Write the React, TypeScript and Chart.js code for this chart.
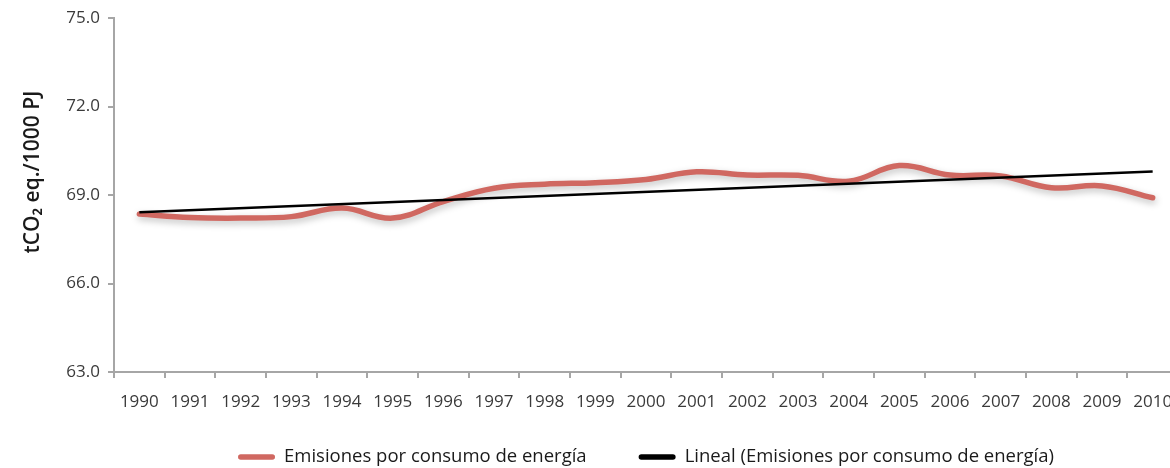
import React, { useEffect, useRef } from "react";
import { Chart, registerables } from "chart.js";

Chart.register(...registerables);

const years = [
  "1990", "1991", "1992", "1993", "1994", "1995", "1996", "1997", "1998", "1999", "2000",
  "2001", "2002", "2003", "2004", "2005", "2006", "2007", "2008", "2009", "2010",
];

const emissions = [
  68.36, 68.24, 68.22, 68.27, 68.56, 68.22, 68.78, 69.23, 69.37, 69.42, 69.53,
  69.79, 69.68, 69.67, 69.47, 70.0, 69.68, 69.65, 69.25, 69.31, 68.91,
];

// Linear trend line read at its two ends (1990 and 2010)
const trendYears = ["1990", "2010"];
const trendValues = [68.42, 69.8];

const yTicks = [63, 66, 69, 72, 75];

const seriesLabel = "Emisiones por consumo de energía";
const trendLabel = "Lineal (Emisiones por consumo de energía)";
const yTitle = "tCO₂ eq./1000 PJ";

const FONT = '"Open Sans", "Noto Sans", sans-serif';
const AXIS = "#a6a6a6";

const yTitlePlugin = {
  id: "yTitlePlugin",
  afterDraw(chart: any) {
    const { ctx, chartArea } = chart;
    ctx.save();
    ctx.translate(33, chartArea.top + chartArea.height * 0.435);
    ctx.rotate(-Math.PI / 2);
    ctx.font = `600 21px ${FONT}`;
    ctx.fillStyle = "#1a1a1a";
    ctx.textAlign = "center";
    ctx.textBaseline = "middle";
    ctx.fillText(yTitle, 0, 0);
    ctx.restore();
  },
};

const legendPlugin = {
  id: "legendPlugin",
  afterDraw(chart: any) {
    const { ctx, chartArea } = chart;
    const items = chart.data.datasets.map((ds: any) => ({ text: ds.label, color: ds.borderColor }));
    const boxW = 37;
    const boxH = 5.5;
    const textGap = 9;
    const itemGap = 52;
    ctx.save();
    ctx.font = `18.5px ${FONT}`;
    const widths = items.map((it: any) => boxW + textGap + ctx.measureText(it.text).width);
    const total = widths.reduce((a: number, b: number) => a + b, 0) + itemGap * (items.length - 1);
    let x = (chartArea.left + chartArea.right) / 2 - total / 2;
    const y = chart.height - 11;
    items.forEach((it: any, i: number) => {
      ctx.fillStyle = it.color;
      ctx.beginPath();
      ctx.roundRect(x, y - boxH / 2, boxW, boxH, boxH / 2);
      ctx.fill();
      ctx.fillStyle = "#1a1a1a";
      ctx.textAlign = "left";
      ctx.textBaseline = "middle";
      ctx.fillText(it.text, x + boxW + textGap, y);
      x += widths[i] + itemGap;
    });
    ctx.restore();
  },
};

const shadowPlugin = {
  id: "shadowPlugin",
  beforeDatasetDraw(chart: any, args: any) {
    if (args.index !== 0) return;
    const ctx = chart.ctx;
    ctx.save();
    ctx.shadowColor = "rgba(0,0,0,0.25)";
    ctx.shadowBlur = 7;
    ctx.shadowOffsetX = 1;
    ctx.shadowOffsetY = 3;
  },
  afterDatasetDraw(chart: any, args: any) {
    if (args.index !== 0) return;
    chart.ctx.restore();
  },
};

export default function App() {
  const ref = useRef<HTMLCanvasElement | null>(null);

  useEffect(() => {
    if (!ref.current) return;
    const chart = new Chart(ref.current, {
      type: "line",
      data: {
        labels: years,
        datasets: [
          {
            label: seriesLabel,
            data: emissions,
            borderColor: "#d06861",
            backgroundColor: "#d06861",
            borderWidth: 5.5,
            pointRadius: 0,
            tension: 0.4,
            borderCapStyle: "round",
            order: 1,
          },
          {
            label: trendLabel,
            data: trendYears.map((y, i) => ({ x: y, y: trendValues[i] })),
            borderColor: "#000000",
            backgroundColor: "#000000",
            borderWidth: 2.5,
            pointRadius: 0,
            tension: 0,
            order: 0,
          },
        ],
      },
      options: {
        responsive: false,
        animation: false,
        devicePixelRatio: 1,
        layout: { padding: { top: 18, right: 12, left: 0, bottom: 52 } },
        scales: {
          x: {
            type: "category",
            offset: true,
            grid: {
              display: true,
              offset: true,
              drawOnChartArea: false,
              drawTicks: true,
              tickLength: 6,
              color: AXIS,
              lineWidth: 2,
            },
            border: { display: true, color: AXIS, width: 2 },
            ticks: {
              color: "#3a3a3a",
              font: { family: FONT, size: 17 },
              padding: 14,
              maxRotation: 0,
              autoSkip: false,
            },
            afterFit: (s: any) => {
              s.height = 44;
            },
          },
          y: {
            min: 63,
            max: 75,
            afterBuildTicks: (s: any) => {
              s.ticks = yTicks.map((v) => ({ value: v }));
            },
            grid: {
              display: true,
              drawOnChartArea: false,
              drawTicks: true,
              tickLength: 6,
              color: AXIS,
              lineWidth: 2,
            },
            border: { display: true, color: AXIS, width: 2 },
            ticks: {
              color: "#3a3a3a",
              font: { family: FONT, size: 17 },
              padding: 8,
              callback: (v: any) => Number(v).toFixed(1),
            },
            afterFit: (s: any) => {
              s.width = 114;
            },
          },
        },
        plugins: {
          tooltip: { enabled: false },
          legend: { display: false },
        },
      } as any,
      plugins: [yTitlePlugin, legendPlugin, shadowPlugin],
    });
    return () => chart.destroy();
  }, []);

  return (
    <div
      style={{
        position: "absolute",
        left: 0,
        top: 0,
        width: 1170,
        height: 468,
        overflow: "hidden",
        background: "#ffffff",
      }}
    >
      <canvas ref={ref} width={1190} height={468} style={{ display: "block", width: 1190, height: 468 }} />
    </div>
  );
}
